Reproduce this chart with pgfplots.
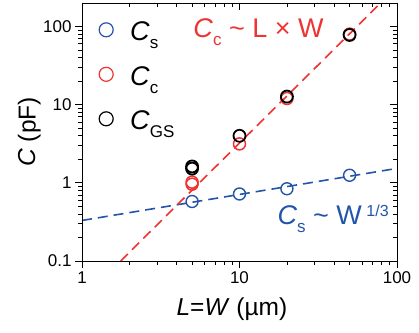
\documentclass[border=0pt]{standalone}
\usepackage{fontspec}
\setmainfont{Liberation Sans}
\usepackage{pgfplots}
\pgfplotsset{compat=1.18}
\usetikzlibrary{calc}
\definecolor{cblue}{RGB}{34,85,170}
\definecolor{cred}{RGB}{238,51,51}
\newcommand{\lsub}[1]{\raisebox{-8pt}{\fontsize{17}{17}\selectfont #1}}
\newcommand{\lsup}[1]{\raisebox{8.5pt}{\fontsize{16}{16}\selectfont #1}}
\pgfplotsset{lmark/.style={legend image code/.code={%
  \draw[##1, only marks, mark size=7pt, mark options={line width=1.2pt}] plot coordinates {(10pt,0pt)};
  \path[draw=none, fill=none] (0pt,-1pt) rectangle (32pt,1pt);}}}
\begin{document}
\begin{tikzpicture}
\begin{axis}[xmode=log, ymode=log, xmin=1, xmax=100, ymin=0.1, ymax=200,
  scale only axis, width=315pt, height=258pt,
  axis line style={line width=0.9pt},
  major tick length=7pt, minor tick length=4pt,
  every tick/.style={line width=0.8pt, black},
  xtick={1,10,100}, ytick={0.1,1,10,100},
 tick align=outside, xtick pos=left, ytick pos=left,
 xticklabels={1,10,100}, yticklabels={0.1,1,10,100},
 tick label style={font=\fontsize{17}{20}\selectfont},
 /pgf/number format/assume math mode=true,
 xlabel={\textit{L}=\textit{W} (µm)},
 ylabel={\textit{C} (pF)},
 label style={font=\fontsize{24.5}{28}\selectfont},
 xlabel style={at={(axis description cs:0.476,-0.213)}, anchor=base},
 ylabel style={at={(axis description cs:-0.167,0.5)}, anchor=center},
 legend style={draw=none, fill=none, font=\fontsize{27}{30}\selectfont,
   inner sep=0pt, row sep=14.5pt,
   nodes={text height=24pt, text depth=2pt, inner sep=2pt},
   at={(axis description cs:0.0444,0.955)}, anchor=north west},
 legend cell align=left,
]
\coordinate (SW) at (rel axis cs:0,0);
\coordinate (NE) at (rel axis cs:1,1);
\addplot[cblue, line width=1.6pt, dash pattern=on 10pt off 6pt, forget plot] coordinates {(1,0.33) (100,1.53)};
\addplot[cred, line width=1.6pt, dash pattern=on 10pt off 6pt, forget plot] coordinates {(1.76,0.1) (100,323)};
\addplot[only marks, mark=o, cblue, mark size=6pt, mark options={line width=1.4pt}, lmark] coordinates {(5,0.577)(10,0.72)(20,0.84)(50,1.25)};
\addplot[only marks, mark=o, cred, mark size=6pt, mark options={line width=1.5pt}, lmark] coordinates {(5,0.96)(5,1.02)(10,3.15)(20,12.0)(50,80)};
\addplot[only marks, mark=o, black, mark size=6pt, mark options={line width=1.8pt}, lmark] coordinates {(5,1.52)(5,1.62)(10,4.0)(20,12.7)(50,78)};
\legend{\textit{C}\lsub{s},\textit{C}\lsub{c},\textit{C}\lsub{GS}}
\node[anchor=base west, text=cred, font=\fontsize{27}{30}\selectfont, inner sep=0pt] at (axis cs:5.08,73) {\textit{C}\lsub{c} \textasciitilde{} L × W};
\node[anchor=base west, text=cblue, font=\fontsize{27}{30}\selectfont, inner sep=0pt] at (axis cs:17.4,0.291) {\textit{C}\lsub{s} \textasciitilde{} W\,\lsup{1/3}};
\end{axis}
\begin{axis}[xmode=log, ymode=log, xmin=1, xmax=100, ymin=0.1, ymax=200,
  scale only axis, width=315pt, height=258pt,
  axis line style={line width=0.9pt},
  major tick length=7pt, minor tick length=4pt,
  every tick/.style={line width=0.8pt, black},
  xtick={1,10,100}, ytick={0.1,1,10,100},
  tick align=inside, xtick pos=right, ytick pos=right,
  xticklabels={}, yticklabels={}]
\end{axis}
\pgfresetboundingbox
\path ($(SW)+(-82pt,-72pt)$) rectangle ($(NE)+(22pt,3pt)$);
\end{tikzpicture}
\end{document}
